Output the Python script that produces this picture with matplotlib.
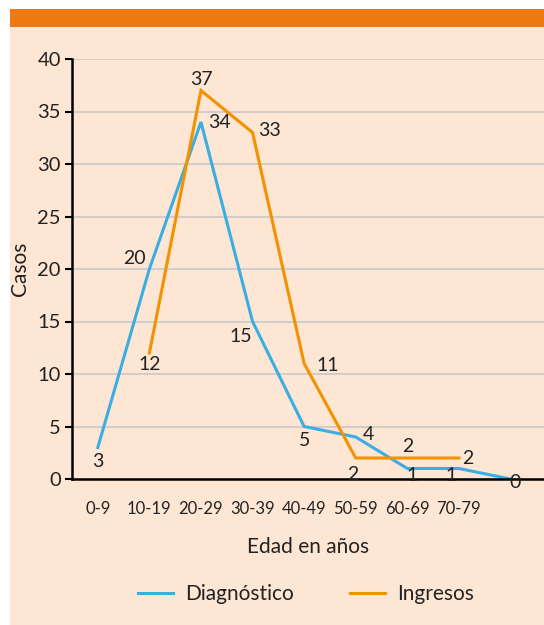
import matplotlib
matplotlib.use("Agg")
import matplotlib.pyplot as plt
from matplotlib.patches import Rectangle

plt.rcParams['font.family'] = ['Lato', 'DejaVu Sans']

# data
grupos = ["0-9", "10-19", "20-29", "30-39", "40-49", "50-59", "60-69", "70-79", ""]
diagnostico = [3, 20, 34, 15, 5, 4, 1, 1, 0]
ingresos = [None, 12, 37, 33, 11, 2, 2, 2, None]

# label offsets in pixels (dx, dy, ha)
off_diag = [(0, -14, 'center'), (-4, 10, 'right'), (7, 0, 'left'), (0, -15, 'right'),
            (0, -14, 'center'), (13, 2, 'center'), (5, -7, 'center'), (-8, -7, 'center'),
            (5, -3, 'center')]
off_ing = [None, (0, -11, 'center'), (0, 11, 'center'), (6, 2, 'left'), (12, -2, 'left'),
           (-3, -16, 'center'), (0, 11, 'center'), (9, -1, 'center'), None]

azul = "#3aaee2"
naranja = "#f39200"
fondo = "#fde6d4"
texto = "#222222"

fig = plt.figure(figsize=(5.44, 6.25), dpi=100)
fig.patch.set_facecolor("white")
fig.patches.append(Rectangle((10/544, 0), 1, 1 - 9/625, transform=fig.transFigure,
                             facecolor=fondo, edgecolor="none", zorder=-10))
fig.patches.append(Rectangle((10/544, 1 - 27/625), 1, 18/625, transform=fig.transFigure,
                             facecolor="#ef7a14", edgecolor="none", zorder=-9))

ax = fig.add_axes([72/544, (625-479)/625, 1 - 72/544, (479-59)/625])
ax.set_facecolor("none")

x = list(range(len(grupos)))
ax.plot(x, diagnostico, color=azul, lw=2.2, label="Diagnóstico", solid_joinstyle='miter')
xi = [i for i in x if ingresos[i] is not None]
yi = [ingresos[i] for i in xi]
ax.plot(xi, yi, color=naranja, lw=2.2, label="Ingresos", solid_joinstyle='miter')

for i, v in enumerate(diagnostico):
    dx, dy, ha = off_diag[i]
    ax.annotate(str(v), (i, v), xytext=(dx, dy), textcoords='offset pixels',
                ha=ha, va='center', fontsize=14, color=texto)
for i, v in enumerate(ingresos):
    if v is None:
        continue
    dx, dy, ha = off_ing[i]
    ax.annotate(str(v), (i, v), xytext=(dx, dy), textcoords='offset pixels',
                ha=ha, va='center', fontsize=14, color=texto)

ax.set_xlim(-0.5, 8.65)
ax.set_ylim(0, 40)
ax.set_yticks(range(0, 41, 5))
ax.set_xticks(x)
ax.set_xticklabels(grupos)
ax.yaxis.grid(True, color="#c8c8c8", lw=1.2)
ax.set_axisbelow(True)
for s in ["top", "right"]:
    ax.spines[s].set_visible(False)
for s in ["left", "bottom"]:
    ax.spines[s].set_linewidth(1.8)
    ax.spines[s].set_color("black")
ax.tick_params(axis='y', length=5, width=1.5, labelsize=14.5, pad=3, labelcolor=texto, color="black")
ax.tick_params(axis='x', length=0, labelsize=12, pad=16, labelcolor=texto)

ax.set_xlabel("Edad en años", fontsize=15, color=texto, labelpad=14)
ax.set_ylabel("Casos", fontsize=15, color=texto, labelpad=5)

fig.legend(loc='center', bbox_to_anchor=(306/544, 1 - 594/625), ncol=2, frameon=False,
           fontsize=15, handlelength=1.68, handletextpad=0.6, columnspacing=2.7,
           labelcolor=texto)

fig.savefig("out.png", dpi=100, facecolor=fig.get_facecolor())
